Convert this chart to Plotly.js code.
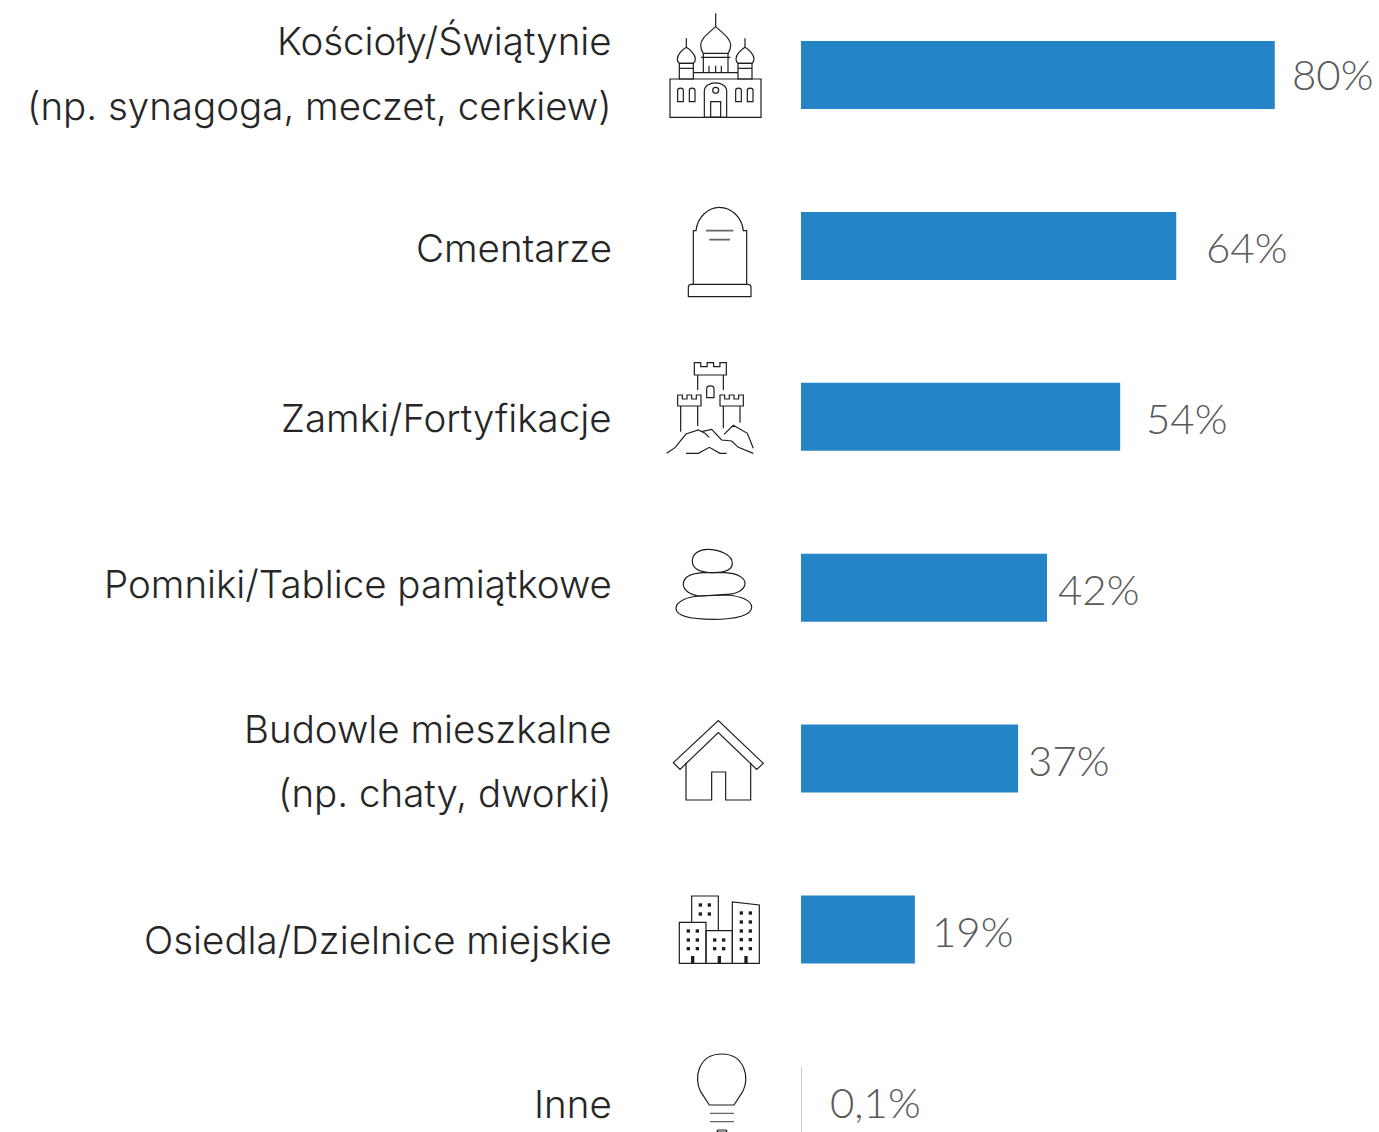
<!DOCTYPE html>
<html><head><meta charset="utf-8">
<script src="https://cdn.plot.ly/plotly-3.0.1.min.js"></script>
<style>html,body{margin:0;padding:0;background:#fff;overflow:hidden}</style>
</head><body><div id="chart" style="width:1379px;height:1132px"></div>
<script>
const categories = ["Kościoły/Świątynie\n(np. synagoga, meczet, cerkiew)","Cmentarze","Zamki/Fortyfikacje","Pomniki/Tablice pamiątkowe","Budowle mieszkalne\n(np. chaty, dworki)","Osiedla/Dzielnice miejskie","Inne"];
const values = [80.3, 63.6, 54.1, 41.7, 36.8, 19.3, 0.1];
const valueLabels = ["80%","64%","54%","42%","37%","19%","0,1%"];
const barColors = ["#2484c6","#2484c6","#2484c6","#2484c6","#2484c6","#2484c6","#cfcfcf"];

const W = 1379, H = 1132;
const px = x => x / W, py = y => 1 - y / H;
const labelFont = {family:"Inter, sans-serif", size:38.5, color:"#262626", weight:300};
const valueFont = {family:"Lato, sans-serif", size:42, color:"#5a5a5a", weight:300};
const labelLineY = [[41,106],[248],[418],[584],[729,793],[940],[1104]];
const valueX = [1291,1205,1145,1057,1027,931,829];
const valueY = [74,247,418,589,760,931,1102];

const annotations = [];
categories.forEach((c,i)=>{
  c.split("\n").forEach((line,j)=>annotations.push({text:line,xref:"paper",yref:"paper",x:px(613),y:py(labelLineY[i][j]),xanchor:"right",yanchor:"middle",showarrow:false,font:labelFont,borderpad:0}));
  annotations.push({text:valueLabels[i],xref:"paper",yref:"paper",x:px(valueX[i]),y:py(valueY[i]),xanchor:"left",yanchor:"middle",showarrow:false,font:valueFont,borderpad:0});
});

// icons: outlines sketched in local units of 1/3 px, with an origin per icon
const shapes = [];
function icon(ox, oy, path, opt={}) {
  const d = path.replace(/(-?[\d.]+)[ ,]+(-?[\d.]+)/g,(m,a,b)=>px(ox+a/3)+","+py(oy+b/3));
  shapes.push({type:"path",xref:"paper",yref:"paper",path:d,layer:"above",
    fillcolor:opt.fill||"rgba(0,0,0,0)",line:{color:opt.color||"#1e1e1e",width:opt.width===undefined?1.2:opt.width}});
}
const oval=(cx,cy,rx,ry)=>{const k=.5523;return `M${cx-rx} ${cy} C${cx-rx} ${cy-k*ry} ${cx-k*rx} ${cy-ry} ${cx} ${cy-ry} C${cx+k*rx} ${cy-ry} ${cx+rx} ${cy-k*ry} ${cx+rx} ${cy} C${cx+rx} ${cy+k*ry} ${cx+k*rx} ${cy+ry} ${cx} ${cy+ry} C${cx-k*rx} ${cy+ry} ${cx-rx} ${cy+k*ry} ${cx-rx} ${cy} Z`;};
const rect=(a,b,c,d)=>`M${a} ${b} L${c} ${b} L${c} ${d} L${a} ${d} Z`;
const arched=(a,b,c,d)=>`M${a} ${d} L${a} ${b+(c-a)/2} C${a} ${b} ${c} ${b} ${c} ${b+(c-a)/2} L${c} ${d} Z`;

// church
let o=[650,0];
icon(...o,rect(60,237,333,352));
icon(...o,"M197 40 L197 80 M197 80 C175 100 152 115 152 135 C152 148 156 155 160 160 L234 160 C238 155 242 148 242 135 C242 115 219 100 197 80");
icon(...o,"M160 160 L160 218 M234 160 L234 218 M130 218 L264 218");
icon(...o,"M153 172 L241 172 M177 197 L177 218 M197 197 L197 218 M214 197 L214 218");
icon(...o,"M109 115 L109 142 C95 150 82 165 82 177 C82 184 85 188 88 190 L130 190 C133 188 136 184 136 177 C136 165 123 150 109 142");
icon(...o,"M285 115 L285 142 C271 150 258 165 258 177 C258 184 261 188 264 190 L306 190 C309 188 312 184 312 177 C312 165 299 150 285 142");
icon(...o,rect(88,190,130,237)); icon(...o,"M88 205 L130 205");
icon(...o,rect(264,190,306,237)); icon(...o,"M264 205 L306 205");
[83,118,257,292].forEach(a=>icon(...o,arched(a,262,a+17,305)));
icon(...o,arched(163,240,230,352)); icon(...o,rect(182,305,212,352)); icon(...o,oval(197,271,9,9));
// gravestone
o=[650,190];
icon(...o,"M130 283 L130 122 L138 122 C143 80 175 52 208 52 C243 52 275 80 280 122 L290 122 L290 283");
icon(...o,"M115 320 L115 292 C115 286 118 283 124 283 L294 283 C300 283 303 286 303 292 L303 320 Z");
icon(...o,"M168 122 L250 122 M178 149 L240 149",{color:"#666",width:1.6});
// castle
o=[650,350];
const crenel=(a,b,c,d)=>{const s=(c-a)/5,t=b+12;return `M${a} ${d} L${a} ${b} L${a+s} ${b} L${a+s} ${t} L${a+2*s} ${t} L${a+2*s} ${b} L${a+3*s} ${b} L${a+3*s} ${t} L${a+4*s} ${t} L${a+4*s} ${b} L${c} ${b} L${c} ${d} Z`;};
icon(...o,crenel(133,38,229,75)); icon(...o,crenel(83,135,153,168)); icon(...o,crenel(210,135,280,168));
icon(...o,"M143 75 L143 120 M220 75 L220 120 M92 168 L92 245 M143 168 L143 228 M220 168 L220 235 M270 168 L270 218");
icon(...o,arched(170,105,192,143));
icon(...o,"M50 310 L75 293 L108 252 L145 240 L165 250 L178 262 M155 245 L185 238 L215 270 L245 273 L265 292 L310 310 M222 253 L250 226 L292 250 L310 295 M108 310 L145 310 L178 292 L210 310 L230 310");
// stones
o=[650,530];
icon(...o,"M127 93 C127 70 150 58 172 58 C210 58 247 75 247 100 C247 118 228 128 190 128 C155 128 127 120 127 93 Z");
icon(...o,"M100 163 C100 140 125 130 160 128 L225 128 C260 130 285 142 285 160 C285 180 260 192 230 193 L150 198 C120 195 100 180 100 163 Z");
icon(...o,"M78 235 C78 215 110 200 150 198 L232 195 C270 198 305 210 305 232 C305 255 260 268 190 268 C120 268 78 258 78 235 Z");
// house
o=[650,710];
icon(...o,"M70 158 L205 32 L340 160 L320 178 L205 68 L90 178 Z");
icon(...o,"M108 158 L108 270 L185 270 L185 186 L227 186 L227 270 L302 270 L302 158");
// buildings
o=[650,880];
icon(...o,"M125 125 L125 48 L205 48 L205 152"); icon(...o,rect(88,127,168,250)); icon(...o,rect(168,152,247,250));
icon(...o,"M247 250 L247 66 L328 75 L328 250 Z");
[[151,75],[178,75],[151,102],[178,102],[115,153],[142,153],[115,180],[142,180],[115,206],[142,206],[194,180],[221,180],[194,206],[221,206],[274,99],[301,99],[274,126],[301,126],[274,153],[301,153],[274,179],[301,179],[274,206],[301,206]]
 .forEach(p=>icon(...o,rect(p[0]-5,p[1]-5,p[0]+5,p[1]+5),{fill:"#1e1e1e",width:0}));
[128,208,288].forEach(a=>icon(...o,rect(a-5,228,a+5,250),{fill:"#1e1e1e",width:0}));
// bulb
o=[650,1040];
icon(...o,"M178 195 L152 155 C130 115 145 42 215 42 C285 42 300 115 278 155 L252 195 Z");
icon(...o,"M180 220 L252 220 M180 245 L252 245",{color:"#666",width:1.4});
icon(...o,"M202 276 L230 276 M202 270 L230 270 M202 270 L202 276 M230 270 L230 276");

Plotly.newPlot("chart",[{
  type:"bar",orientation:"h",y:categories.map(c=>c.replace("\n"," ")),x:values,
  marker:{color:barColors,line:{width:0}},hoverinfo:"x+y",showlegend:false
}],{
  width:W,height:H,margin:{l:0,r:0,t:0,b:0},paper_bgcolor:"#fff",plot_bgcolor:"#fff",
  bargap:0.602,showlegend:false,
  xaxis:{domain:[801/W,1],range:[0,578/5.9],visible:false,fixedrange:true},
  yaxis:{domain:[0,1],type:"category",range:[6.185,-0.4389],visible:false,fixedrange:true},
  annotations,shapes
},{displayModeBar:false,responsive:false});
</script></body></html>
